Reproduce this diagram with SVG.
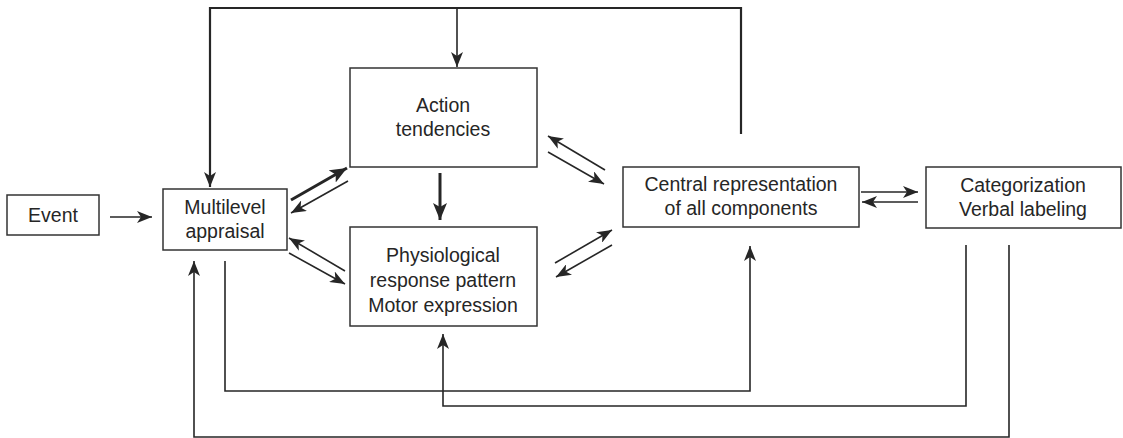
<svg xmlns="http://www.w3.org/2000/svg" width="1123" height="438" viewBox="0 0 1123 438">
  <style>
    .box { fill: #ffffff; stroke: #333333; stroke-width: 1.5; }
    .lbl { font-family: "Liberation Sans", Arial, sans-serif; font-size: 19.5px; fill: #262626; text-anchor: middle; }
    .ln { fill: none; stroke: #262626; stroke-width: 1.6; }
    .thick { fill: none; stroke: #262626; stroke-width: 3; }
    .top { fill: none; stroke: #262626; stroke-width: 2.2; }
  </style>
  <defs>
    <marker id="ah" markerUnits="userSpaceOnUse" markerWidth="16" markerHeight="12" viewBox="0 0 16 12" refX="15" refY="6" orient="auto">
      <path d="M0,0 L15,6 L0,12 L4,6 Z" fill="#262626"/>
    </marker>
    <marker id="ahb" markerUnits="userSpaceOnUse" markerWidth="18" markerHeight="14" viewBox="0 0 18 14" refX="17" refY="7" orient="auto">
      <path d="M0,0 L17,7 L0,14 L4,7 Z" fill="#262626"/>
    </marker>
  </defs>

  <g id="connectors">
    <!-- Event to appraisal -->
    <line class="ln" x1="110" y1="217" x2="152" y2="217" marker-end="url(#ah)"/>
    <!-- feedback loop along the top -->
    <polyline class="top" points="741,134 741,8 210,8 210,187" marker-end="url(#ah)"/>
    <line class="ln" x1="457" y1="8" x2="457" y2="67" marker-end="url(#ah)"/>
    <!-- appraisal <-> action tendencies -->
    <line class="thick" x1="291" y1="200" x2="347" y2="168" marker-end="url(#ahb)"/>
    <line class="ln" x1="348" y1="181" x2="291" y2="213" marker-end="url(#ah)"/>
    <!-- appraisal <-> physiological -->
    <line class="ln" x1="345" y1="271" x2="289" y2="238" marker-end="url(#ah)"/>
    <line class="ln" x1="289" y1="253" x2="345" y2="284" marker-end="url(#ah)"/>
    <!-- action tendencies to physiological -->
    <line class="thick" x1="440" y1="173" x2="440" y2="220" marker-end="url(#ahb)"/>
    <!-- action tendencies <-> central -->
    <line class="ln" x1="605" y1="170" x2="548" y2="136" marker-end="url(#ah)"/>
    <line class="ln" x1="548" y1="152" x2="604" y2="184" marker-end="url(#ah)"/>
    <!-- physiological <-> central -->
    <line class="ln" x1="555" y1="263" x2="612" y2="230" marker-end="url(#ah)"/>
    <line class="ln" x1="612" y1="245" x2="556" y2="277" marker-end="url(#ah)"/>
    <!-- central <-> categorization -->
    <line class="ln" x1="861" y1="192" x2="918" y2="192" marker-end="url(#ah)"/>
    <line class="ln" x1="918" y1="202" x2="862" y2="202" marker-end="url(#ah)"/>
    <!-- loops along the bottom -->
    <polyline class="ln" points="225,261 225,391 750,391 750,246" marker-end="url(#ah)"/>
    <polyline class="ln" points="966,245 966,406 443,406 443,334" marker-end="url(#ah)"/>
    <polyline class="ln" points="1009,245 1009,437 194,437 194,261" marker-end="url(#ah)"/>
  </g>

  <g id="event">
    <rect class="box" x="7" y="195" width="92" height="40"/>
    <text class="lbl" x="53" y="222">Event</text>
  </g>
  <g id="appraisal">
    <rect class="box" x="163" y="189" width="124" height="61"/>
    <text class="lbl" x="225" y="214">Multilevel</text>
    <text class="lbl" x="225" y="238">appraisal</text>
  </g>
  <g id="action">
    <rect class="box" x="350" y="68" width="187" height="99"/>
    <text class="lbl" x="443" y="112">Action</text>
    <text class="lbl" x="443" y="136">tendencies</text>
  </g>
  <g id="physiological">
    <rect class="box" x="350" y="227" width="187" height="99"/>
    <text class="lbl" x="443" y="262">Physiological</text>
    <text class="lbl" x="443" y="287">response pattern</text>
    <text class="lbl" x="443" y="312">Motor expression</text>
  </g>
  <g id="central">
    <rect class="box" x="623" y="167" width="236" height="60"/>
    <text class="lbl" x="741" y="191">Central representation</text>
    <text class="lbl" x="741" y="215">of all components</text>
  </g>
  <g id="categorization">
    <rect class="box" x="926" y="167" width="195" height="61"/>
    <text class="lbl" x="1023" y="192">Categorization</text>
    <text class="lbl" x="1023" y="216">Verbal labeling</text>
  </g>
</svg>
